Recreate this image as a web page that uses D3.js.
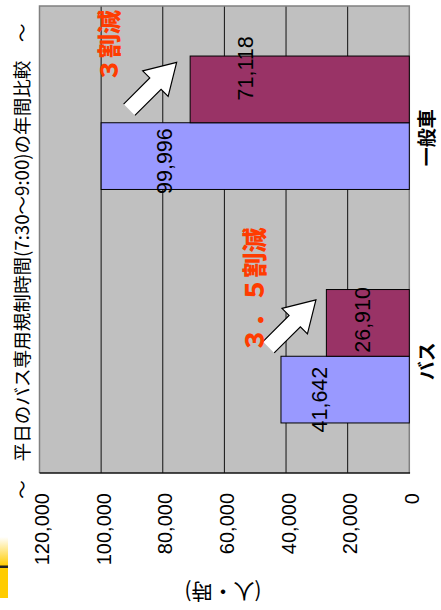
<!DOCTYPE html>
<html>
<head>
<meta charset="utf-8">
<script src="https://cdn.jsdelivr.net/npm/d3@7"></script>
<style>
  html, body { margin: 0; padding: 0; background: #fff; }
  svg { display: block; }
</style>
</head>
<body>
<svg id="chart" width="441" height="610"></svg>
<script>
// Categories and series (annual person-hours during the bus-only lane period)
const categories = ["一般車", "バス"];
const seriesNames = ["after", "before"];
const beforeValues = [99996, 41642];
const afterValues = [71118, 26910];
const tickValues = [0, 20000, 40000, 60000, 80000, 100000, 120000];
const titleText = "〜　平日のバス専用規制時間(7:30〜9:00)の年間比較　〜";
const unitText = "(人・時)";
const reductionLabels = ["３割減", "３．５割減"];

const svg = d3.select("#chart");

// Plot frame (chart is laid on its side: values run right-to-left, categories top-to-bottom)
const plot = { left: 39.5, right: 409.3, top: 6, bottom: 473 };

const x = d3.scaleLinear().domain([0, 120000]).range([plot.right, plot.left]);
const y = d3.scaleBand().domain(categories).range([plot.top, plot.bottom]);
const groupW = y.bandwidth() * 2 / 3.5;
const ySub = d3.scaleBand().domain(seriesNames).range([0, groupW]);

const colors = { before: "#9999ff", after: "#993366" };
const orange = "#ff3c00";

// Small yellow marker at the left edge
const defs = svg.append("defs");
const grad = defs.append("linearGradient").attr("id", "yl").attr("x1", 0).attr("y1", 0).attr("x2", 0).attr("y2", 1);
grad.append("stop").attr("offset", "0%").attr("stop-color", "#ffffff");
grad.append("stop").attr("offset", "100%").attr("stop-color", "#ffcc00");
svg.append("rect").attr("x", 0).attr("y", 537).attr("width", 8).attr("height", 29).attr("fill", "url(#yl)");
svg.append("rect").attr("x", 0).attr("y", 568).attr("width", 8).attr("height", 30).attr("fill", "#ffcc00");
svg.append("rect").attr("x", 0).attr("y", 565.5).attr("width", 8).attr("height", 2.5).attr("fill", "#222");

// Plot background
svg.append("rect")
  .attr("x", plot.left).attr("y", plot.top)
  .attr("width", plot.right - plot.left).attr("height", plot.bottom - plot.top)
  .attr("fill", "#c0c0c0");

// Gridlines
svg.append("g").selectAll("line")
  .data(tickValues.filter(v => v > 0 && v < 120000))
  .join("line")
  .attr("x1", d => x(d)).attr("x2", d => x(d))
  .attr("y1", plot.top).attr("y2", plot.bottom)
  .attr("stroke", "#111").attr("stroke-width", 1);

// Frame
svg.append("path")
  .attr("d", `M${plot.left},${plot.bottom}V${plot.top}H${plot.right}V${plot.bottom}`)
  .attr("fill", "none").attr("stroke", "#808080").attr("stroke-width", 1.5);
svg.append("line")
  .attr("x1", plot.left).attr("x2", plot.right + 0.75)
  .attr("y1", plot.bottom).attr("y2", plot.bottom)
  .attr("stroke", "#111").attr("stroke-width", 1.5);

// Bars
const rows = [];
categories.forEach((c, i) => {
  rows.push({ cat: c, s: "before", v: beforeValues[i] });
  rows.push({ cat: c, s: "after", v: afterValues[i] });
});
const groupTop = c => y(c) + (y.bandwidth() - groupW) / 2;

svg.append("g").selectAll("rect")
  .data(rows)
  .join("rect")
  .attr("x", d => x(d.v))
  .attr("y", d => groupTop(d.cat) + ySub(d.s))
  .attr("width", d => x(0) - x(d.v))
  .attr("height", ySub.bandwidth())
  .attr("fill", d => colors[d.s])
  .attr("stroke", "#000").attr("stroke-width", 1);

// Value labels, rotated to read upward
const labelShift = {
  "一般車|before": [64, 5], "一般車|after": [56, -21],
  "バス|before": [39, 10], "バス|after": [37, -3]
};
svg.append("g").selectAll("text")
  .data(rows)
  .join("text")
  .attr("transform", d => {
    const sh = labelShift[d.cat + "|" + d.s];
    const cx = x(d.v) + sh[0];
    const cy = groupTop(d.cat) + ySub(d.s) + ySub.bandwidth() / 2 + sh[1];
    return `translate(${cx},${cy}) rotate(-90)`;
  })
  .attr("text-anchor", "middle")
  .attr("dominant-baseline", "central")
  .attr("font-family", "Liberation Sans, Arial, sans-serif")
  .attr("font-size", 21.5)
  .attr("fill", "#000")
  .text(d => d3.format(",")(d.v));

// Value axis (along the bottom)
const axis = svg.append("g")
  .attr("transform", `translate(0,${plot.bottom})`)
  .call(d3.axisBottom(x).tickValues(tickValues).tickSize(0).tickFormat(d3.format(",")));
axis.select(".domain").remove();
axis.selectAll("text")
  .attr("transform", "translate(2,20) rotate(-90)")
  .attr("x", 0).attr("y", 0).attr("dy", null)
  .attr("text-anchor", "end")
  .attr("dominant-baseline", "central")
  .attr("font-family", "Liberation Sans, Arial, sans-serif")
  .attr("font-size", 20)
  .attr("fill", "#000");

// Category labels (right side)
const catShift = { "一般車": 15, "バス": 5 };
svg.append("g").selectAll("text")
  .data(categories)
  .join("text")
  .attr("transform", d => `translate(425,${y(d) + y.bandwidth() / 2 + catShift[d]}) rotate(-90)`)
  .attr("text-anchor", "middle")
  .attr("dominant-baseline", "central")
  .attr("font-family", "Noto Sans CJK JP, sans-serif")
  .attr("font-weight", 700)
  .attr("font-size", 19)
  .attr("fill", "#000")
  .text(d => d);

// Title, running up the left edge
svg.append("text")
  .attr("transform", "translate(20,261) rotate(-90)")
  .attr("text-anchor", "middle")
  .attr("dominant-baseline", "central")
  .attr("font-family", "Noto Sans CJK JP, sans-serif")
  .attr("font-size", 18.6)
  .attr("fill", "#000")
  .text(titleText);

// Unit label
svg.append("text")
  .attr("transform", "translate(223,593) rotate(180)")
  .attr("text-anchor", "middle")
  .attr("dominant-baseline", "central")
  .attr("font-family", "Noto Sans CJK JP, sans-serif")
  .attr("font-size", 21)
  .attr("fill", "#000")
  .text(unitText);

// Reduction callouts: arrow plus label, placed beside each "after" bar
const arrowShape = [[0, -8], [37, -8], [37, -18], [67, 0], [37, 18], [37, 8], [0, 8]];
const callouts = [
  { cat: "一般車", tipV: 75500, tipDy: -27, text: reductionLabels[0], tx: 107, ty: 46, fs: 24 },
  { cat: "バス", tipV: 30300, tipDy: -23, text: reductionLabels[1], tx: 253, ty: 290, fs: 25 }
];
callouts.forEach(c => {
  const tipX = x(c.tipV);
  const tipY = groupTop(c.cat) + ySub("after") + ySub.bandwidth() / 2 + c.tipDy;
  const ang = -45 * Math.PI / 180;
  const L = 67;
  const tailX = tipX - L * Math.cos(ang), tailY = tipY - L * Math.sin(ang);
  svg.append("path")
    .attr("d", d3.line()(arrowShape))
    .attr("transform", `translate(${tailX},${tailY}) rotate(-45)`)
    .attr("fill", "#fff").attr("stroke", "#000").attr("stroke-width", 1.2)
    .attr("stroke-linejoin", "miter");
  svg.append("text")
    .attr("transform", `translate(${c.tx},${c.ty}) rotate(-90)`)
    .attr("text-anchor", "middle")
    .attr("dominant-baseline", "central")
    .attr("font-family", "Noto Sans CJK JP, sans-serif")
    .attr("font-weight", 900)
    .attr("font-size", c.fs)
    .attr("fill", orange)
    .text(c.text);
});
</script>
</body>
</html>
